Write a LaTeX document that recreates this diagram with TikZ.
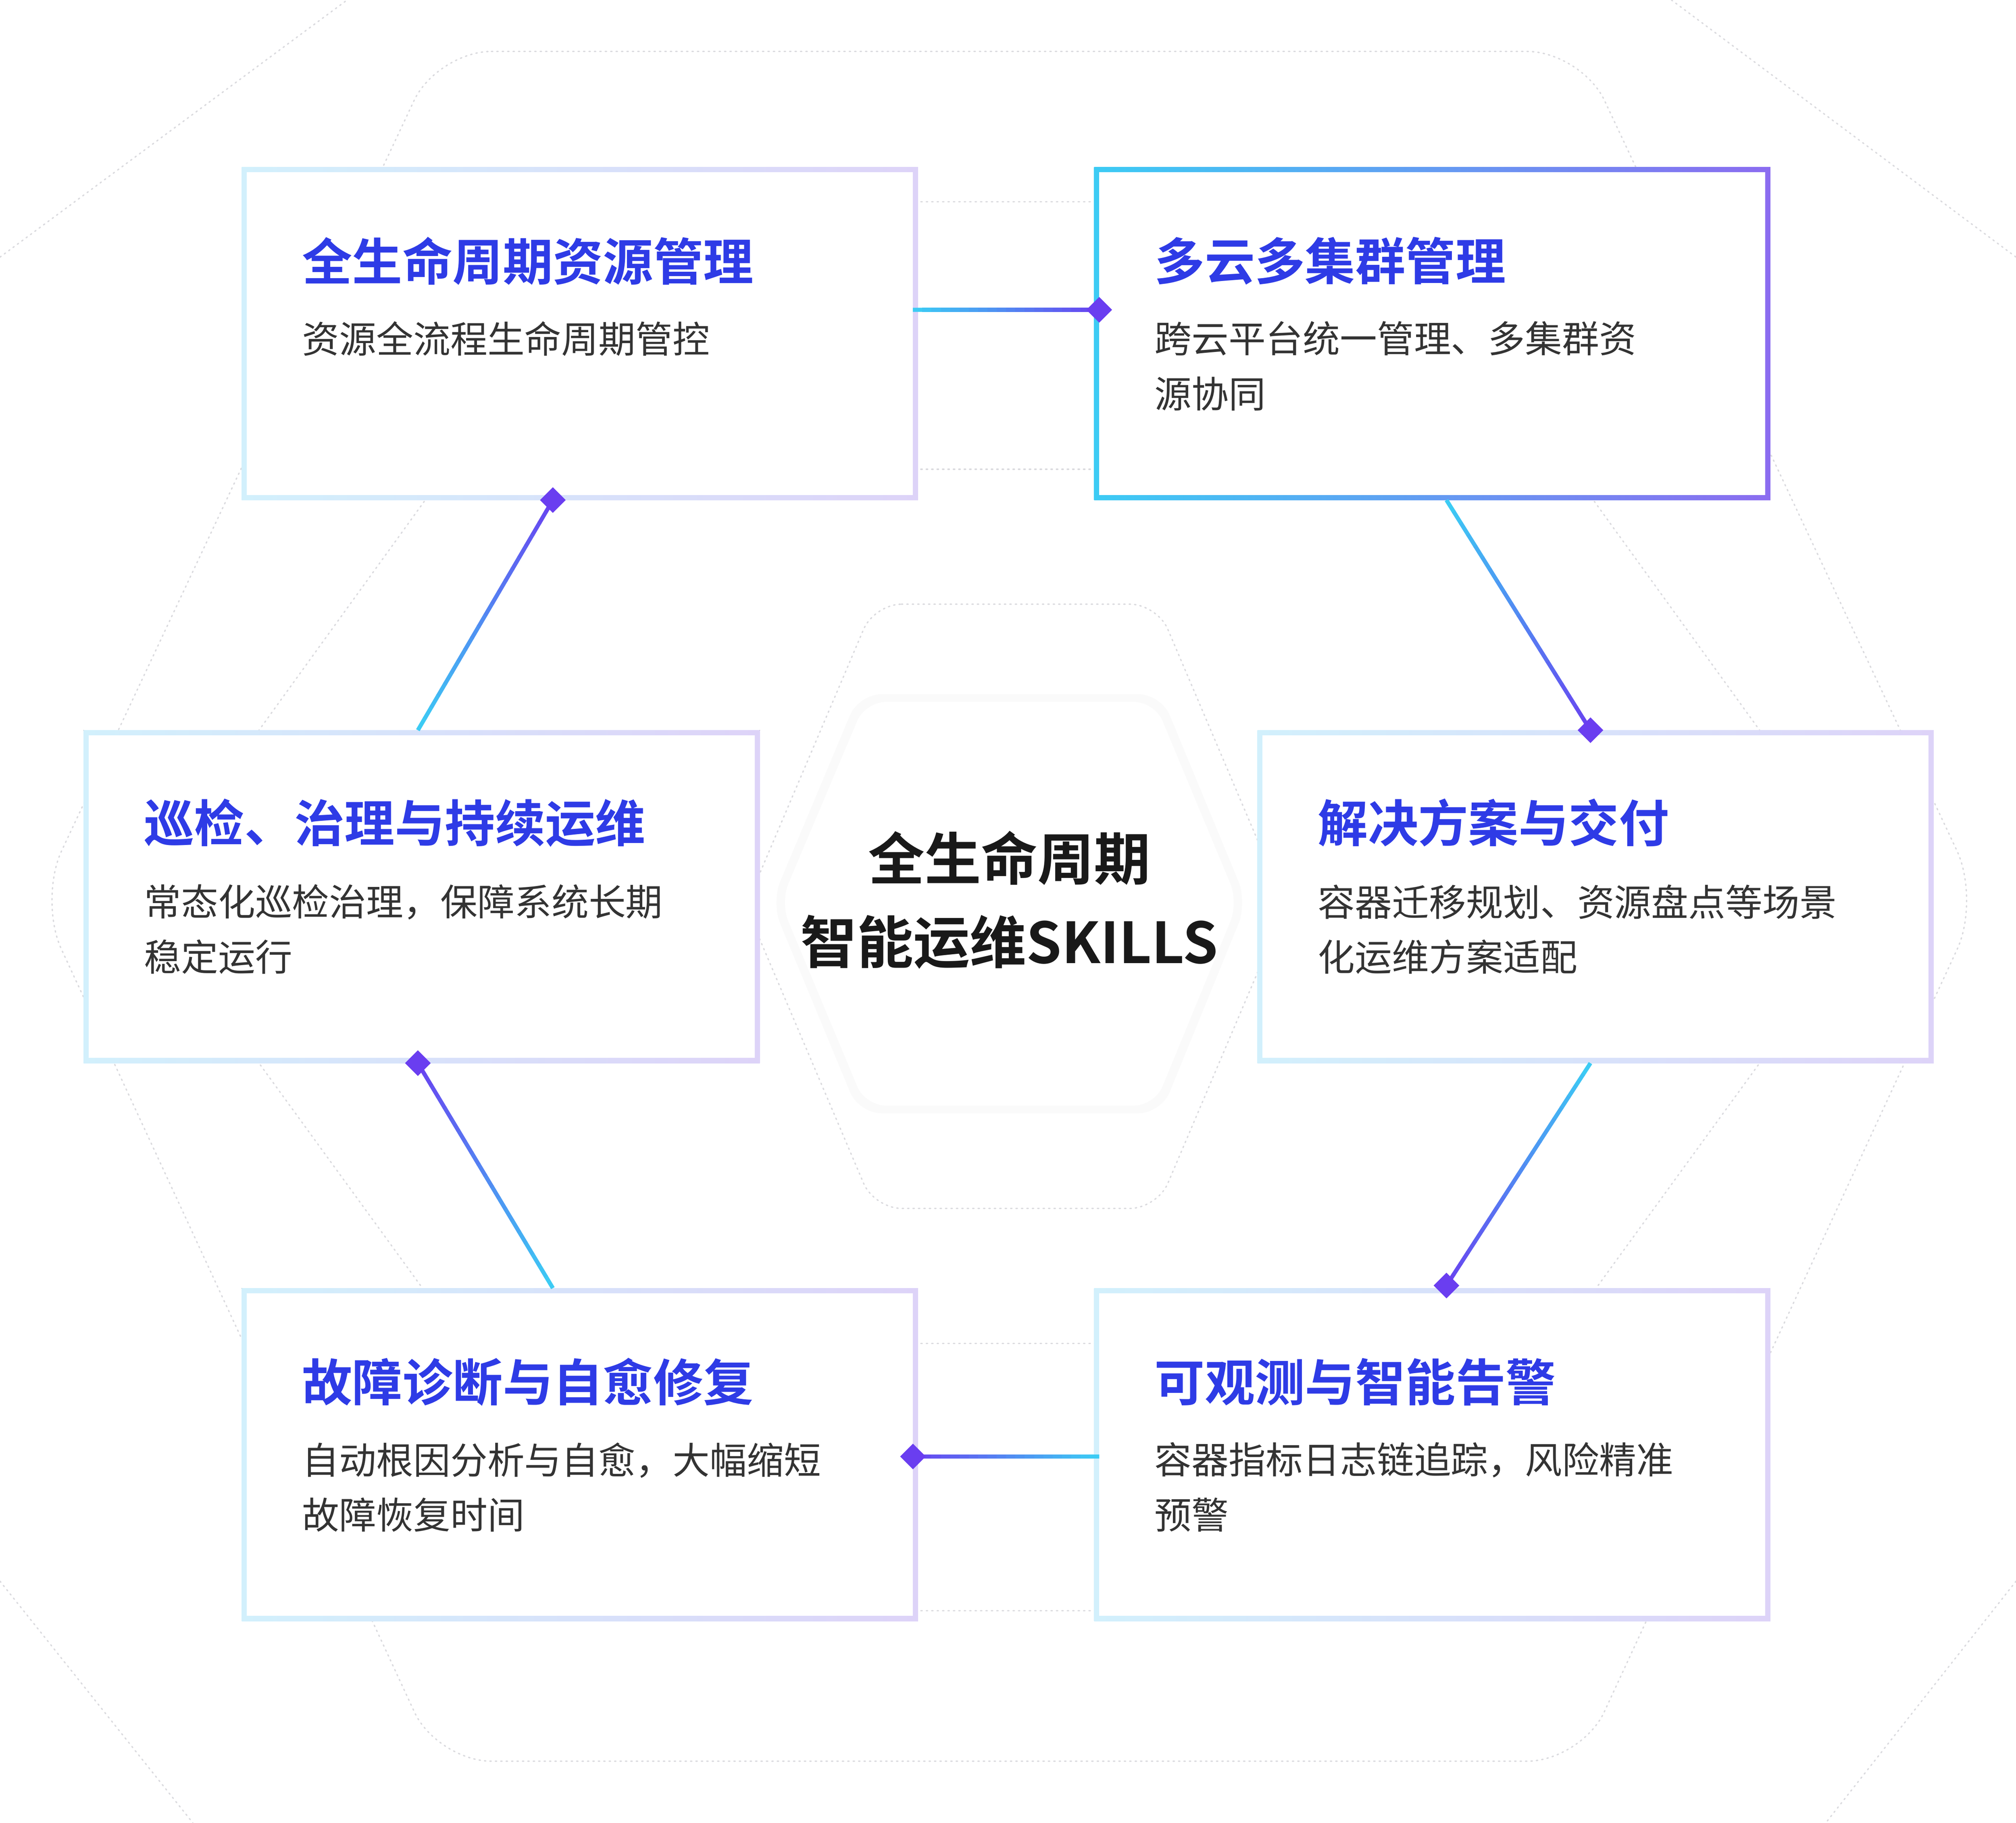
\documentclass[tikz,border=0pt]{standalone}
\usepackage{fontspec}
\newfontfamily\cjk{Noto Sans CJK SC}
\newfontfamily\cjkb{Noto Sans CJK SC Bold}
\usetikzlibrary{calc,shapes.geometric}
\definecolor{ttl}{HTML}{2E3BE6}
\definecolor{dsc}{HTML}{333333}
\definecolor{cya}{HTML}{3CCBF4}
\definecolor{vio}{HTML}{6A3EF0}
\definecolor{pur}{HTML}{8B6CF0}
\definecolor{bl}{HTML}{D2F0FC}
\definecolor{br}{HTML}{DDD3F8}
\definecolor{dots}{HTML}{DADADE}
\tikzset{
 x=0.1cm,y=-0.1cm,
 title/.style={anchor=west,inner sep=0,text=ttl,font=\cjkb\fontsize{111}{120}\selectfont},
 desc/.style={anchor=north west,inner sep=0,text=dsc,align=left,font=\cjk\fontsize{82}{122}\selectfont},
 card/.style={minimum width=51.8cm,minimum height=25.1cm,fill=white,draw=none,inner sep=0},
 dia/.style={diamond,fill=vio,minimum size=2cm,inner sep=0},
 bgd/.style={draw=dots,line width=3pt,dash pattern=on 3pt off 9pt,line cap=round}
}
\newcommand\mycard[7]{% name,x1,y1,x2,y2,leftcol,rightcol
 \fill[left color=#6,right color=#7] (#2,#3) rectangle (#4,#5);
 \node[card] (#1) at ({(#2+#4)/2},{(#3+#5)/2}) {};
}
\newcommand\grad[2]{% from (cyan end) to (violet end)
 \foreach \i in {0,...,19}{
  \pgfmathsetmacro\p{100-\i*5}
  \draw[line width=9pt,color=cya!\p!vio] ($(#1)!\i/20!(#2)$) -- ($(#1)!{(\i+1.05)/20}!(#2)$);
 }
}
\begin{document}
\begin{tikzpicture}
\useasboundingbox (0,0) rectangle (1568,1418);
\fill[white] (0,0) rectangle (1568,1418);
% background dotted shapes
\draw[bgd,rounded corners=120] (340,40) -- (1230,40) -- (1540,700) -- (1230,1370) -- (340,1370) -- (30,700) -- cycle;
\draw[bgd] (0,200) -- (270,0); \draw[bgd] (1300,0) -- (1568,200);
\draw[bgd] (0,1230) -- (150,1418); \draw[bgd] (1568,1230) -- (1420,1418);
\draw[bgd] (712,157) -- (853,157); \draw[bgd] (712,365) -- (853,365);
\draw[bgd] (712,1045) -- (853,1045); \draw[bgd] (712,1253) -- (853,1253);
\draw[bgd,rounded corners=60] (680,470) -- (900,470) -- (1000,705) -- (900,940) -- (680,940) -- (580,705) -- cycle;
\draw[bgd] (330,390) -- (200,570); \draw[bgd] (1240,390) -- (1370,570);
\draw[bgd] (200,825) -- (330,1004); \draw[bgd] (1370,825) -- (1240,1004);
% center hexagon
\fill[black!2,rounded corners=50] (668,540) -- (903,540) -- (970,702) -- (903,866) -- (668,866) -- (600,702) -- cycle;
\fill[white,rounded corners=45] (673,546) -- (898,546) -- (963,702) -- (898,860) -- (673,860) -- (607,702) -- cycle;
\node[inner sep=0,align=center,font=\cjkb\fontsize{125}{185}\selectfont,text=black!90] (center) at (785,700) {全生命周期\\智能运维SKILLS};
% cards
\mycard{c1}{188}{130}{714}{389}{bl}{br}
\mycard{c2}{851}{130}{1377}{389}{cya}{pur}
\mycard{c3}{65}{568}{591}{827}{bl}{br}
\mycard{c4}{978}{568}{1504}{827}{bl}{br}
\mycard{c5}{188}{1002}{714}{1261}{bl}{br}
\mycard{c6}{851}{1002}{1377}{1261}{bl}{br}
\node[title] at (235,203) {全生命周期资源管理};
\node[desc] at (235,250) {资源全流程生命周期管控};
\node[title] at (898,203) {多云多集群管理};
\node[desc] at (898,250) {跨云平台统一管理、多集群资\\源协同};
\node[title] at (112,640) {巡检、治理与持续运维};
\node[desc] at (112,688) {常态化巡检治理，保障系统长期\\稳定运行};
\node[title] at (1025,640) {解决方案与交付};
\node[desc] at (1025,688) {容器迁移规划、资源盘点等场景\\化运维方案适配};
\node[title] at (235,1075) {故障诊断与自愈修复};
\node[desc] at (235,1122) {自动根因分析与自愈，大幅缩短\\故障恢复时间};
\node[title] at (898,1075) {可观测与智能告警};
\node[desc] at (898,1122) {容器指标日志链追踪，风险精准\\预警};
% connectors
\coordinate (a1) at (c1.east |- 0,241); \coordinate (b1) at (c2.west |- 0,241);
\grad{a1}{b1} \node[dia] at (b1) {};
\coordinate (a2) at (1125,389); \coordinate (b2) at (1237,568);
\grad{a2}{b2} \node[dia] at (b2) {};
\coordinate (a3) at (1237,827); \coordinate (b3) at (1125,1000);
\grad{a3}{b3} \node[dia] at (b3) {};
\coordinate (a4) at (c6.west |- 0,1133); \coordinate (b4) at (c5.east |- 0,1133);
\grad{a4}{b4} \node[dia] at (b4) {};
\coordinate (a5) at (430,1002); \coordinate (b5) at (325,827);
\grad{a5}{b5} \node[dia] at (b5) {};
\coordinate (a6) at (325,568); \coordinate (b6) at (430,389);
\grad{a6}{b6} \node[dia] at (b6) {};
\end{tikzpicture}
\end{document}
